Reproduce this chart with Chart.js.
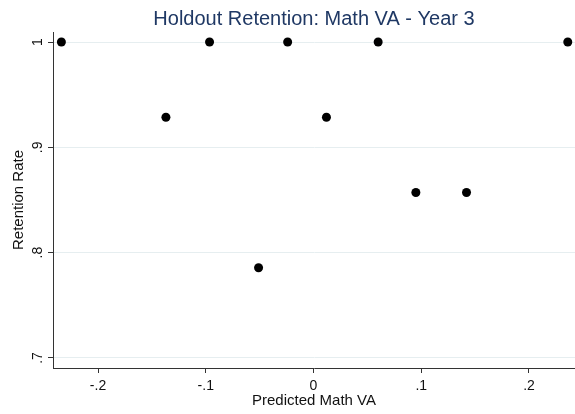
<!DOCTYPE html>
<html>
<head>
<meta charset="utf-8">
<script src="https://cdn.jsdelivr.net/npm/chart.js@4/dist/chart.umd.min.js"></script>
<style>
  html, body { margin: 0; padding: 0; background: #fff; }
  #wrap { width: 575px; height: 414px; }
</style>
</head>
<body>
<div id="wrap"><canvas id="scatter" width="575" height="414"></canvas></div>
<script>
// predicted VA (x) and retention rate (y)
const predictedVA = [-0.234, -0.137, -0.0965, -0.051, -0.024, 0.012, 0.060, 0.095, 0.142, 0.236];
const retention   = [1, 0.9286, 1, 0.7857, 1, 0.9286, 1, 0.8571, 0.8571, 1];

const xTicks = [-0.2, -0.1, 0, 0.1, 0.2];
const yTicks = [0.7, 0.8, 0.9, 1];

const chartTitle = 'Holdout Retention: Math VA - Year 3';
const xTitle = 'Predicted Math VA';
const yTitle = 'Retention Rate';

// Stata style labels: drop the leading zero
const stataLabel = (v) => {
  const r = Math.round(v * 10) / 10;
  if (r === 0) return '0';
  return String(r).replace(/^(-?)0\./, '$1.');
};

const FONT = '"Liberation Sans", Arial, sans-serif';

// title over the plot region plus tick labels (y ones rotated like Stata)
const stataDecor = {
  id: 'stataDecor',
  afterDraw(chart) {
    const { ctx, chartArea, scales } = chart;
    ctx.save();
    ctx.fillStyle = '#1f3864';
    ctx.font = `20px ${FONT}`;
    ctx.textAlign = 'center';
    ctx.textBaseline = 'middle';
    ctx.fillText(chartTitle, (chartArea.left + chartArea.right) / 2, 19);

    ctx.fillStyle = '#111';
    ctx.font = `14px ${FONT}`;
    yTicks.forEach(v => {
      const y = scales.y.getPixelForValue(v);
      ctx.save();
      ctx.translate(chartArea.left - 15, y);
      ctx.rotate(-Math.PI / 2);
      ctx.fillText(stataLabel(v), 0, 0);
      ctx.restore();
    });
    xTicks.forEach(v => {
      ctx.fillText(stataLabel(v), scales.x.getPixelForValue(v), chartArea.bottom + 18);
    });
    ctx.restore();
  }
};

new Chart(document.getElementById('scatter'), {
  type: 'scatter',
  data: {
    datasets: [{
      data: predictedVA.map((x, i) => ({ x, y: retention[i] })),
      backgroundColor: '#000',
      borderWidth: 0,
      pointRadius: 4.5,
      pointHoverRadius: 4.5
    }]
  },
  options: {
    responsive: false,
    animation: false,
    clip: false,
    layout: { autoPadding: false, padding: { top: 32, right: 0, left: 0, bottom: 0 } },
    plugins: {
      legend: { display: false },
      tooltip: { enabled: false }
    },
    scales: {
      x: {
        type: 'linear',
        min: -0.2418,
        max: 0.2427,
        afterBuildTicks: (s) => { s.ticks = xTicks.map(value => ({ value })); },
        afterFit: (s) => { s.height = 46; },
        border: { display: true, color: '#333', width: 1 },
        grid: { drawOnChartArea: false, drawTicks: true, tickLength: 5, tickColor: '#333' },
        ticks: { display: false },
        title: {
          display: true,
          text: xTitle,
          color: '#111',
          font: { family: FONT, size: 15 },
          padding: { top: 0, bottom: 4 }
        }
      },
      y: {
        type: 'linear',
        min: 0.6905,
        max: 1.0095,
        afterBuildTicks: (s) => { s.ticks = yTicks.map(value => ({ value })); },
        afterFit: (s) => { s.width = 53; },
        border: { display: true, color: '#333', width: 1 },
        grid: { color: '#e6eef0', lineWidth: 1, drawTicks: true, tickLength: 5, tickColor: '#333' },
        ticks: { display: false },
        title: {
          display: true,
          text: yTitle,
          color: '#111',
          font: { family: FONT, size: 15 },
          padding: { top: 10, bottom: 0 }
        }
      }
    }
  },
  plugins: [stataDecor]
});
</script>
</body>
</html>
